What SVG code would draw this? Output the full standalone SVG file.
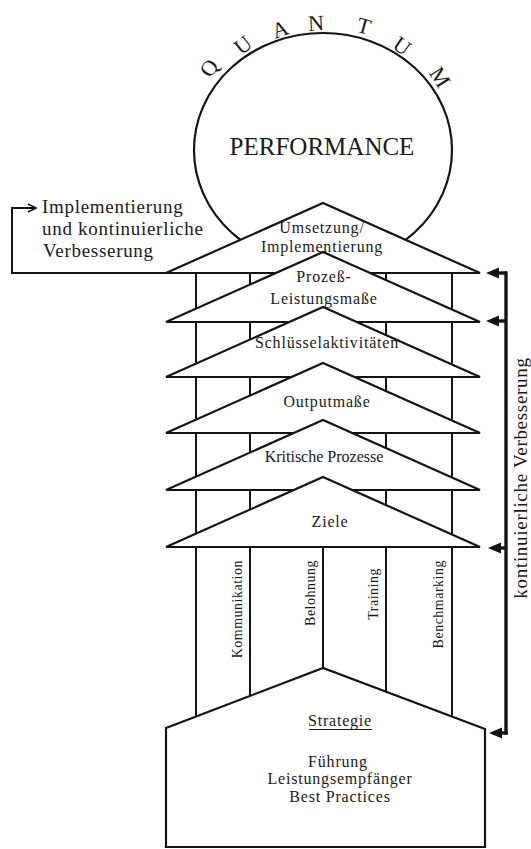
<svg xmlns="http://www.w3.org/2000/svg" width="531" height="849" viewBox="0 0 531 849">
  <defs>
    <style>
      .shape{fill:#fff;stroke:#141414;stroke-width:2.2;stroke-linejoin:miter}
      .pil{stroke:#141414;stroke-width:2;fill:none}
      .wire{stroke:#141414;stroke-width:2;fill:none}
      .fb{stroke:#141414;stroke-width:3.4;fill:none}
      text{font-family:"Liberation Serif","Times New Roman",serif;fill:#1a1a1a}
      .lbl{font-size:16px;letter-spacing:0.8px;text-anchor:middle}
      .side{font-size:19px;letter-spacing:0.7px}
      .col{font-size:14px;letter-spacing:0.5px;text-anchor:end}
      .q{font-size:22px;text-anchor:middle}
      .big{font-size:25px;text-anchor:middle}
    </style>
    <marker id="open" markerWidth="12" markerHeight="12" refX="9" refY="5" orient="auto" markerUnits="userSpaceOnUse">
      <path d="M1,1 L9,5 L1,9" fill="none" stroke="#141414" stroke-width="1.6"/>
    </marker>
    <marker id="solid" markerWidth="14" markerHeight="12" refX="9" refY="6" orient="auto" markerUnits="userSpaceOnUse">
      <path d="M0,0.5 L13,6 L0,11.5 Z" fill="#141414"/>
    </marker>
  </defs>

  <!-- Quantum Performance circle -->
  <g id="performance">
    <ellipse class="shape" cx="323" cy="150" rx="129" ry="117"/>
    <text class="big" x="322" y="155">PERFORMANCE</text>
    <g class="q">
      <text transform="translate(209,68) rotate(-55)" y="7.5">Q</text>
      <text transform="translate(243,45) rotate(-38)" y="7.5">U</text>
      <text transform="translate(280,29) rotate(-19)" y="7.5">A</text>
      <text transform="translate(316,23) rotate(-3)" y="7.5">N</text>
      <text transform="translate(364,26) rotate(16)" y="7.5">T</text>
      <text transform="translate(402,46) rotate(35)" y="7.5">U</text>
      <text transform="translate(440,77) rotate(57)" y="7.5">M</text>
    </g>
  </g>

  <!-- Pillars carrying the roof stack -->
  <g id="pillars">
    <line class="pil" x1="196" y1="273" x2="196" y2="720"/>
    <line class="pil" x1="250" y1="273" x2="250" y2="700"/>
    <line class="pil" x1="386" y1="273" x2="386" y2="700"/>
    <line class="pil" x1="452" y1="273" x2="452" y2="720"/>
    <line class="pil" x1="323" y1="547" x2="323" y2="672"/>
    <text class="col" transform="translate(241.5,560) rotate(-90)">Kommunikation</text>
    <text class="col" transform="translate(315,560) rotate(-90)">Belohnung</text>
    <text class="col" transform="translate(378,568) rotate(-90)">Training</text>
    <text class="col" transform="translate(443,560) rotate(-90)">Benchmarking</text>
  </g>

  <!-- Roof layers, top to bottom -->
  <g id="umsetzung">
    <polygon class="shape" points="166,273 323,203 480,273"/>
    <text class="lbl" x="322" y="233">Umsetzung/</text>
    <text class="lbl" x="322" y="252">Implementierung</text>
  </g>
  <g id="prozess">
    <polygon class="shape" points="166,322 323,252 480,322"/>
    <text class="lbl" x="324" y="282">Prozeß-</text>
    <text class="lbl" x="324" y="304">Leistungsmaße</text>
  </g>
  <g id="schluessel">
    <polygon class="shape" points="166,377 323,307 480,377"/>
    <text class="lbl" x="327" y="348">Schlüsselaktivitäten</text>
  </g>
  <g id="output">
    <polygon class="shape" points="166,433 323,363 480,433"/>
    <text class="lbl" x="327" y="407">Outputmaße</text>
  </g>
  <g id="kritisch">
    <polygon class="shape" points="166,490 323,420 480,490"/>
    <text class="lbl" x="324" y="462" style="letter-spacing:0">Kritische Prozesse</text>
  </g>
  <g id="ziele">
    <polygon class="shape" points="166,547 323,477 480,547"/>
    <text class="lbl" x="330" y="527">Ziele</text>
  </g>

  <!-- Foundation -->
  <g id="strategie">
    <polygon class="shape" points="166,847 166,728 323,668 485,729 485,847"/>
    <text class="lbl" x="340" y="726">Strategie</text>
    <line x1="309" y1="729.5" x2="372" y2="729.5" stroke="#1a1a1a" stroke-width="1"/>
    <text class="lbl" x="338" y="767">Führung</text>
    <text class="lbl" x="340" y="784">Leistungsempfänger</text>
    <text class="lbl" x="340" y="802">Best Practices</text>
  </g>

  <!-- Feedback loops -->
  <g id="connectors">
    <path class="wire" d="M166,273 H12 V208 H36" marker-end="url(#open)"/>
    <text class="side" x="42" y="213">Implementierung</text>
    <text class="side" x="42" y="235">und kontinuierliche</text>
    <text class="side" x="43" y="257">Verbesserung</text>

    <path class="fb" d="M506,271.5 V734.5"/>
    <line class="fb" x1="507" y1="273" x2="490" y2="273" marker-end="url(#solid)"/>
    <line class="fb" x1="507" y1="321" x2="490" y2="321" marker-end="url(#solid)"/>
    <line class="fb" x1="507" y1="548" x2="492" y2="548" marker-end="url(#solid)"/>
    <line class="fb" x1="507.7" y1="733" x2="493" y2="733" marker-end="url(#solid)"/>
    <text class="side" transform="translate(527,478) rotate(-90)" text-anchor="middle">kontinuierliche Verbesserung</text>
  </g>
</svg>
